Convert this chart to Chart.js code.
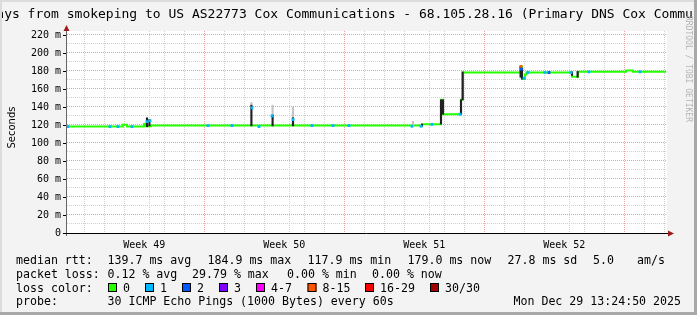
<!DOCTYPE html>
<html>
<head>
<meta charset="utf-8">
<script src="https://cdn.jsdelivr.net/npm/chart.js@4/dist/chart.umd.min.js"></script>
<style>
  html, body { margin: 0; padding: 0; background: #f3f3f3; }
  #wrap { width: 697px; height: 315px; }
</style>
</head>
<body>
<div id="wrap"><canvas id="c" width="697" height="315"></canvas></div>
<script>
// x values are days from the left edge of the 30 day window
var medX    = [0, 2.8, 3.0, 3.85, 3.95, 4.2, 17.75, 18.7, 18.8, 19.7, 19.8, 22.68, 22.75, 22.9, 22.97, 25.25, 25.55, 27.95, 28.3, 29.95];
var medY    = [118.2, 120.2, 118.2, 121, 118.6, 119.3, 120.7, 148, 132, 148, 178.3, 185, 171, 176, 178.4, 173.5, 179, 180.5, 179.1, 179.1];

// single pings lost (loss count out of 30)
var lossX   = [0.05, 2.15, 2.55, 3.25, 4.0, 4.15, 7.05, 8.25, 9.25, 9.6, 10.25, 11.3, 12.25, 13.3, 14.1, 17.25, 17.7, 18.25, 19.65, 22.7, 22.72, 22.85, 23.05, 23.9, 24.1, 25.2, 26.1, 28.65];
var lossY   = [118.2, 118.2, 118.2, 118.2, 123.7, 124.8, 119.3, 119.3, 139, 118.2, 130, 126, 119.3, 119.3, 119.3, 118.6, 118.6, 120.7, 132, 185, 182, 172, 178.3, 178.3, 178.3, 178.3, 179, 179.1];
var lossN   = [1, 1, 1, 1, 1, 1, 1, 1, 1, 1, 1, 1, 1, 1, 1, 1, 1, 1, 1, 10, 2, 1, 1, 1, 2, 1, 1, 1];

// smoke (spread of the 30 pings) where it shows
var smokeX  = [4.0, 4.12, 9.22, 10.28, 11.3, 17.75, 18.7, 18.8, 19.7, 19.78, 22.68, 22.75, 25.25, 25.53];
var smokeLo = [118, 119, 119, 119, 119, 118.6, 121, 132, 132, 148, 173, 171, 175, 173];
var smokeHi = [128, 126, 142, 131, 128, 121, 148, 148, 148, 179, 185, 183, 179, 179.5];
var smokeFadeX  = [9.22, 10.28, 11.3, 17.3];
var smokeFadeLo = [142, 131, 128, 119];
var smokeFadeHi = [145, 142, 140, 124];

var yTicks = [0, 10, 20, 30, 40, 50, 60, 70, 80, 90, 100, 110, 120, 130, 140, 150, 160, 170, 180, 190, 200, 210, 220];
var weekStart = 0.365;
var weekLabels = ['Week 49', 'Week 50', 'Week 51', 'Week 52'];

var lossColors = [[0, '0', '#26ff00'], [1, '1', '#00b8ff'], [2, '2', '#0059ff'], [3, '3', '#7e00ff'],
                  [7, '4-7', '#ff00ff'], [15, '8-15', '#ff5500'], [29, '16-29', '#ff0000'], [30, '30/30', '#a00000']];

function lossColor(n) {
    for (var i = 0; i < lossColors.length; i++) {
        if (n <= lossColors[i][0]) return lossColors[i][2];
    }
    return '#a00000';
}

var xTicks = [];
for (var k = 0; k < 30; k++) xTicks.push(weekStart + k);
for (var j = 0; j < weekLabels.length; j++) xTicks.push(weekStart + 3.5 + 7 * j);
xTicks.sort(function (a, b) { return a - b; });

function isMajor(v) { var q = (v - weekStart) / 7; return Math.abs(q - Math.round(q)) < 1e-6; }
function isLabel(v) { var q = (v - weekStart) % 1; return Math.abs(q - 0.5) < 1e-6; }

var mono = 'DejaVu Sans Mono';

var decor = {
    id: 'decor',
    beforeDraw: function (chart) {
        var c = chart.ctx, a = chart.chartArea;
        c.save();
        c.fillStyle = '#f3f3f3';
        c.fillRect(0, 0, chart.width, chart.height);
        c.fillStyle = '#ffffff';
        c.fillRect(a.left, a.top, a.right - a.left, a.bottom - a.top);
        c.restore();
    },
    afterDraw: function (chart) {
        var c = chart.ctx, a = chart.chartArea, ys = chart.scales.y;
        c.save();
        // axes
        c.strokeStyle = '#666666';
        c.lineWidth = 1;
        c.beginPath(); c.moveTo(66.5, a.bottom + 3); c.lineTo(66.5, 29); c.stroke();
        c.strokeStyle = '#000000';
        c.beginPath(); c.moveTo(63, a.bottom + 0.5); c.lineTo(670, a.bottom + 0.5); c.stroke();
        c.fillStyle = '#9b1c1c';
        c.beginPath(); c.moveTo(63.5, 31); c.lineTo(69.5, 31); c.lineTo(66.5, 25); c.closePath(); c.fill();
        c.beginPath(); c.moveTo(668, a.bottom - 2.5); c.lineTo(668, a.bottom + 3.5); c.lineTo(674, a.bottom + 0.5); c.closePath(); c.fill();
        // y ticks
        c.strokeStyle = '#000000';
        for (var i = 0; i < yTicks.length; i++) {
            if (yTicks[i] % 20) continue;
            var py = Math.round(ys.getPixelForValue(yTicks[i])) + 0.5;
            c.beginPath(); c.moveTo(63, py); c.lineTo(66, py); c.stroke();
        }
        // title
        c.fillStyle = '#000000';
        c.font = '13px "' + mono + '"';
        c.textAlign = 'center';
        c.textBaseline = 'alphabetic';
        c.fillText('Last 30 Days from smokeping to US AS22773 Cox Communications - 68.105.28.16 (Primary DNS Cox Communications)', 348.5, 18);
        // y axis title
        c.save();
        c.translate(14.5, 127.5);
        c.rotate(-Math.PI / 2);
        c.font = '10px "DejaVu Sans"';
        c.fillText('Seconds', 0, 0);
        c.restore();
        // watermark
        c.save();
        c.translate(686, 16);
        c.rotate(Math.PI / 2);
        c.textAlign = 'left';
        c.fillStyle = '#b4b4b4';
        c.font = '8px "' + mono + '"';
        c.fillText('RRDTOOL / TOBI OETIKER', 0, 0);
        c.restore();
        // legend
        c.textAlign = 'left';
        c.font = '11.6px "' + mono + '"';
        c.fillStyle = '#000000';
        c.fillText('median rtt:', 16, 264);
        var r1 = [[107.5, '139.7 ms avg'], [207.5, '184.9 ms max'], [307.5, '117.9 ms min'], [407.5, '179.0 ms now'], [507.5, '27.8 ms sd'], [593, '5.0'], [637, 'am/s']];
        r1.forEach(function (t) { c.fillText(t[1], t[0], 264); });
        c.fillText('packet loss:', 16, 278);
        var r2 = [[107.5, '0.12 % avg'], [192, '29.79 % max'], [287, '0.00 % min'], [372, '0.00 % now']];
        r2.forEach(function (t) { c.fillText(t[1], t[0], 278); });
        c.fillText('loss color:', 16, 292);
        var bx = [108, 145, 182, 219, 256, 307.5, 365, 430];
        for (var b = 0; b < lossColors.length; b++) {
            c.fillStyle = lossColors[b][2];
            c.fillRect(bx[b], 283, 9, 9);
            c.strokeStyle = '#000000';
            c.strokeRect(bx[b] + 0.5, 283.5, 8, 8);
            c.fillStyle = '#000000';
            c.fillText(lossColors[b][1], bx[b] + 15, 292);
        }
        c.fillText('probe:', 16, 305);
        c.fillText('30 ICMP Echo Pings (1000 Bytes) every 60s', 107.5, 305);
        c.textAlign = 'right';
        c.fillText('Mon Dec 29 13:24:50 2025', 681, 305);
        // frame
        c.fillStyle = '#dcdcdc';
        c.fillRect(0, 0, 697, 2);
        c.fillRect(0, 0, 2, 315);
        c.fillStyle = '#a8a8a8';
        c.fillRect(0, 312, 697, 3);
        c.fillRect(694, 0, 3, 315);
        c.restore();
    }
};

var medData = medX.map(function (x, i) { return { x: x, y: medY[i] }; });
var lossData = lossX.map(function (x, i) { return { x: x, y: lossY[i] }; });
var smokeData = smokeX.map(function (x, i) { return { x: x, y: [smokeLo[i], smokeHi[i]] }; });
var fadeData = smokeFadeX.map(function (x, i) { return { x: x, y: [smokeFadeLo[i], smokeFadeHi[i]] }; });

new Chart(document.getElementById('c'), {
    type: 'line',
    data: {
        datasets: [
            {
                type: 'line', data: lossData, showLine: false, order: 1,
                pointStyle: 'rect', pointRadius: 2, pointBorderWidth: 0,
                pointBackgroundColor: lossN.map(lossColor)
            },
            {
                type: 'bar', data: smokeData, order: 2, grouped: false,
                barThickness: 1.5, backgroundColor: '#222222', borderWidth: 0
            },
            {
                type: 'bar', data: fadeData, order: 3, grouped: false,
                barThickness: 1.5, backgroundColor: '#c4c4c4', borderWidth: 0
            },
            {
                type: 'line', data: medData, order: 4, stepped: true,
                borderColor: '#26ff00', borderWidth: 2, pointRadius: 0, fill: false
            }
        ]
    },
    options: {
        responsive: false,
        animation: false,
        layout: { padding: { left: 0, right: 30, top: 31, bottom: 0 } },
        plugins: { legend: { display: false }, tooltip: { enabled: false }, title: { display: false } },
        scales: {
            x: {
                type: 'linear', min: 0, max: 30, offset: false,
                afterBuildTicks: function (s) { s.ticks = xTicks.map(function (v) { return { value: v }; }); },
                afterFit: function (s) { s.height = 82; },
                ticks: {
                    autoSkip: false, maxRotation: 0, padding: 6, color: '#000000',
                    font: { family: mono, size: 10 },
                    callback: function (v) {
                        if (!isLabel(v)) return '';
                        return weekLabels[Math.round((v - weekStart - 3.5) / 7)];
                    }
                },
                grid: {
                    drawTicks: false, lineWidth: 1,
                    color: function (ctx) {
                        if (!ctx.tick) return '#d0d0d0';
                        var v = ctx.tick.value;
                        if (isLabel(v)) return 'rgba(0,0,0,0)';
                        return isMajor(v) ? '#e9a0a0' : '#d0d0d0';
                    }
                },
                border: { display: false, color: '#000000', dash: [1, 1] }
            },
            y: {
                min: 0, max: 224.4,
                afterBuildTicks: function (s) { s.ticks = yTicks.map(function (v) { return { value: v }; }); },
                afterFit: function (s) { s.width = 67; },
                ticks: {
                    autoSkip: false, padding: 6, color: '#000000',
                    font: { family: mono, size: 10 },
                    callback: function (v) {
                        if (v % 20) return '';
                        return v === 0 ? '0' : v + ' m';
                    }
                },
                grid: {
                    drawTicks: false, lineWidth: 1,
                    color: function (ctx) {
                        if (!ctx.tick) return '#d0d0d0';
                        return ctx.tick.value % 20 ? '#d0d0d0' : '#e9a0a0';
                    }
                },
                border: { display: false, color: '#000000', dash: [1, 1] }
            }
        }
    },
    plugins: [decor]
});
</script>
</body>
</html>
